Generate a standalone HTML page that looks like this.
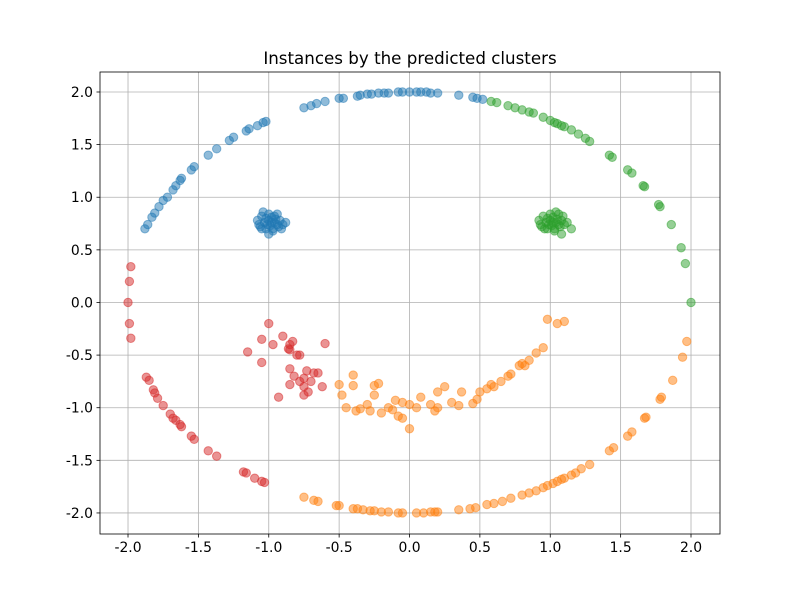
<!DOCTYPE html>
<html><head><meta charset="utf-8"><style>
body{margin:0;background:#fff}
svg text{font-family:"DejaVu Sans","Liberation Sans",sans-serif}
</style></head><body>
<svg id="chart" width="800" height="600">
<rect width="800" height="600" fill="#fff"/>
<text x="410" y="64" text-anchor="middle" font-size="16.7">Instances by the predicted clusters</text>
<g id="grid"></g><g id="pts"></g><g id="axes"></g>
</svg>
<script>
const xTicks=[-2.0,-1.5,-1.0,-0.5,0.0,0.5,1.0,1.5,2.0];
const yTicks=[-2.0,-1.5,-1.0,-0.5,0.0,0.5,1.0,1.5,2.0];
const blueSeries=[[-1.88,0.70],[-1.86,0.74],[-1.83,0.81],[-1.81,0.85],[-1.78,0.91],[-1.75,0.97],[-1.72,1.00],[-1.68,1.07],[-1.66,1.11],[-1.63,1.16],[-1.62,1.18],[-1.55,1.26],[-1.53,1.29],[-1.43,1.40],[-1.37,1.46],[-1.28,1.54],[-1.25,1.57],[-1.16,1.63],[-1.14,1.65],[-1.08,1.68],[-1.04,1.71],[-1.02,1.72],[-0.75,1.85],[-0.70,1.87],[-0.66,1.89],[-0.60,1.91],[-0.50,1.94],[-0.47,1.94],[-0.37,1.96],[-0.35,1.97],[-0.30,1.98],[-0.27,1.98],[-0.22,1.99],[-0.18,1.99],[-0.15,1.99],[-0.08,2.0],[-0.05,2.0],[0.0,2.0],[0.05,2.0],[0.08,2.0],[0.12,2.0],[0.15,1.99],[0.2,1.99],[0.35,1.97],[0.45,1.95],[0.48,1.94],[0.52,1.93],
[-1.08,0.78],[-1.06,0.72],[-1.05,0.82],[-1.03,0.76],[-1.02,0.70],[-1.0,0.84],[-1.0,0.78],[-0.99,0.73],[-0.98,0.81],[-0.97,0.70],[-0.96,0.76],[-0.95,0.79],[-0.93,0.72],[-0.92,0.78],[-0.90,0.74],[-0.88,0.76],[-1.0,0.65],[-1.04,0.86],[-1.01,0.74],[-0.94,0.84],[-1.07,0.74],[-0.97,0.68],[-1.02,0.80],[-0.94,0.74],[-0.98,0.76],[-1.05,0.70],[-0.91,0.70],[-0.96,0.82]];
const orangeSeries=[[-0.75,-1.85],[-0.68,-1.88],[-0.65,-1.89],[-0.52,-1.93],[-0.5,-1.93],[-0.4,-1.96],[-0.37,-1.96],[-0.33,-1.97],[-0.28,-1.98],[-0.25,-1.98],[-0.2,-1.99],[-0.15,-1.99],[-0.08,-2.0],[-0.05,-2.0],[0.05,-2.0],[0.1,-2.0],[0.15,-1.99],[0.18,-1.99],[0.2,-1.99],[0.35,-1.97],[0.43,-1.96],[0.47,-1.95],[0.55,-1.92],[0.6,-1.91],[0.66,-1.89],[0.72,-1.86],[0.8,-1.83],[0.85,-1.81],[0.9,-1.79],[0.95,-1.76],[0.98,-1.74],[1.02,-1.72],[1.05,-1.70],[1.08,-1.68],[1.1,-1.67],[1.15,-1.64],[1.18,-1.62],[1.22,-1.58],[1.28,-1.54],[1.42,-1.41],[1.45,-1.38],[1.55,-1.27],[1.58,-1.23],[1.67,-1.10],[1.68,-1.09],[1.78,-0.92],[1.79,-0.90],[1.87,-0.74],[1.94,-0.52],[1.97,-0.37],
[-0.5,-0.78],[-0.48,-0.88],[-0.45,-1.0],[-0.4,-0.69],[-0.4,-0.79],[-0.38,-1.03],[-0.35,-1.01],[-0.3,-0.97],[-0.28,-1.03],[-0.25,-0.79],[-0.22,-0.77],[-0.25,-0.88],[-0.2,-1.05],[-0.15,-1.0],[-0.12,-1.02],[-0.1,-0.93],[-0.08,-1.08],[-0.05,-0.95],[-0.05,-1.1],[0.0,-0.97],[0.0,-1.2],[0.05,-1.0],[0.08,-0.9],[0.15,-0.97],[0.18,-1.03],[0.2,-1.0],[0.2,-0.85],[0.25,-0.8],[0.3,-0.95],[0.35,-0.98],[0.37,-0.85],[0.45,-0.96],[0.48,-0.92],[0.5,-0.85],[0.55,-0.82],[0.6,-0.8],[0.58,-0.78],[0.65,-0.75],[0.7,-0.7],[0.72,-0.68],[0.78,-0.6],[0.8,-0.58],[0.82,-0.6],[0.85,-0.55],[0.9,-0.48],[0.95,-0.43],[0.98,-0.16],[1.05,-0.2],[1.1,-0.18]];
const greenSeries=[[0.58,1.91],[0.62,1.90],[0.7,1.87],[0.75,1.85],[0.8,1.83],[0.85,1.81],[0.88,1.80],[0.95,1.76],[1.0,1.73],[1.03,1.71],[1.05,1.70],[1.08,1.68],[1.1,1.67],[1.15,1.64],[1.2,1.60],[1.25,1.56],[1.28,1.53],[1.42,1.40],[1.44,1.38],[1.55,1.26],[1.58,1.23],[1.66,1.11],[1.67,1.10],[1.77,0.93],[1.78,0.91],[1.86,0.74],[1.93,0.52],[1.96,0.37],[2.0,0.0],
[0.92,0.78],[0.94,0.72],[0.95,0.82],[0.97,0.76],[0.98,0.70],[1.0,0.84],[1.0,0.78],[1.01,0.73],[1.02,0.81],[1.03,0.70],[1.04,0.76],[1.05,0.79],[1.07,0.72],[1.08,0.78],[1.10,0.74],[1.12,0.76],[1.08,0.65],[1.04,0.86],[0.99,0.74],[1.06,0.84],[0.93,0.74],[1.03,0.68],[0.98,0.80],[1.06,0.74],[1.02,0.76],[1.15,0.70],[0.96,0.70],[1.09,0.82]];
const redSeries=[[-2.0,0.0],[-1.98,0.34],[-1.99,0.2],[-1.99,-0.2],[-1.98,-0.34],[-1.87,-0.71],[-1.85,-0.74],[-1.82,-0.83],[-1.81,-0.86],[-1.79,-0.91],[-1.75,-0.98],[-1.7,-1.06],[-1.68,-1.1],[-1.66,-1.12],[-1.63,-1.16],[-1.62,-1.18],[-1.55,-1.27],[-1.53,-1.3],[-1.43,-1.41],[-1.37,-1.46],[-1.18,-1.61],[-1.16,-1.62],[-1.1,-1.67],[-1.05,-1.7],[-1.03,-1.71],
[-1.15,-0.47],[-1.05,-0.35],[-1.05,-0.57],[-1.0,-0.2],[-0.97,-0.4],[-0.9,-0.32],[-0.85,-0.4],[-0.83,-0.37],[-0.85,-0.45],[-0.86,-0.44],[-0.8,-0.5],[-0.78,-0.5],[-0.6,-0.39],[-0.85,-0.63],[-0.82,-0.7],[-0.78,-0.75],[-0.75,-0.72],[-0.75,-0.8],[-0.7,-0.75],[-0.68,-0.67],[-0.65,-0.67],[-0.85,-0.78],[-0.75,-0.88],[-0.72,-0.85],[-0.93,-0.9],[-0.62,-0.8],[-0.73,-0.65]];
const L=100,R=720,T=72,B=534;
const X0=-2.199,X1=2.206,Y0=-2.2,Y1=2.19;
const sx=v=>L+(v-X0)/(X1-X0)*(R-L);
const sy=v=>B-(v-Y0)/(Y1-Y0)*(B-T);
const NS="http://www.w3.org/2000/svg";
function mk(t,a,p){const e=document.createElementNS(NS,t);for(const k in a)e.setAttribute(k,a[k]);p.appendChild(e);return e;}
const grid=document.getElementById('grid'),axes=document.getElementById('axes'),pts=document.getElementById('pts');
xTicks.forEach(v=>{const x=sx(v);
 const g=mk('line',{x1:x,x2:x,y1:T,y2:B,stroke:'#b0b0b0','stroke-width':0.8},grid);
 
 
 mk('line',{x1:x,x2:x,y1:B,y2:B+3.5,stroke:'#000','stroke-width':0.8},axes);
 const t=mk('text',{x:x,y:B+18,'text-anchor':'middle','font-size':13.9},axes);t.textContent=v.toFixed(1);
 
 });
yTicks.forEach(v=>{const y=sy(v);
 const g=mk('line',{x1:L,x2:R,y1:y,y2:y,stroke:'#b0b0b0','stroke-width':0.8},grid);
 
 
 mk('line',{x1:L-3.5,x2:L,y1:y,y2:y,stroke:'#000','stroke-width':0.8},axes);
 const t=mk('text',{x:L-7,y:y+5,'text-anchor':'end','font-size':13.9},axes);t.textContent=v.toFixed(1);
 
 });
const fr=mk('rect',{x:L,y:T,width:R-L,height:B-T,fill:'none',stroke:'#000','stroke-width':0.8},axes);


[[blueSeries,'#1f77b4','cluster-0'],[orangeSeries,'#ff7f0e','cluster-1'],[greenSeries,'#2ca02c','cluster-2'],[redSeries,'#d62728','cluster-3']].forEach(([s,c,n])=>{
 s.forEach(p=>{const e=mk('circle',{cx:sx(p[0]),cy:sy(p[1]),r:4.2,fill:c,'fill-opacity':0.5,stroke:c,'stroke-opacity':0.5,'stroke-width':1},pts);
 
 });});
</script>
</body></html>
